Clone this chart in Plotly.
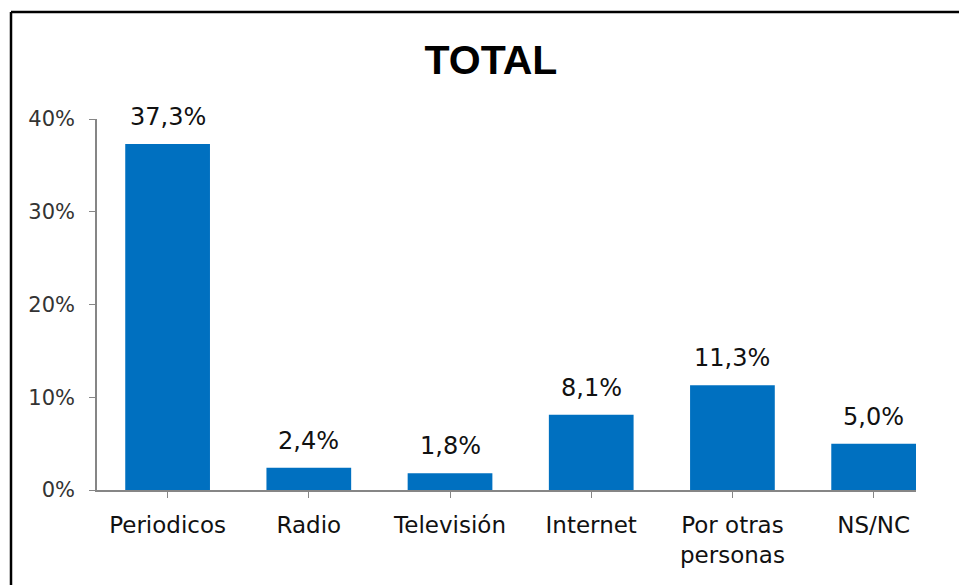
import plotly.graph_objects as go

categories = ["Periodicos", "Radio", "Televisión", "Internet", "Por otras<br>personas", "NS/NC"]
values = [37.3, 2.4, 1.8, 8.1, 11.3, 5.0]
labels = ["37,3%", "2,4%", "1,8%", "8,1%", "11,3%", "5,0%"]
tick_vals = [0, 10, 20, 30, 40]
tick_text = ["0%", "10%", "20%", "30%", "40%"]

W, H = 959, 585
# plot area in pixels: x 97..916, y 119..490
ml, mt, mr, mb = 97, 119, W - 916, H - 490
pw, ph = W - ml - mr, H - mt - mb

font = "DejaVu Sans, Verdana, sans-serif"

fig = go.Figure()
fig.add_trace(go.Bar(
    x=list(range(len(categories))), y=values,
    marker=dict(color="#0070C0", line=dict(width=0)),
    width=0.6,
))

# value labels above each bar
for i, (v, t) in enumerate(zip(values, labels)):
    fig.add_annotation(x=i, y=v, text=t, showarrow=False, yanchor="bottom",
                       yshift=11, font=dict(family=font, size=24, color="#111111"))

# chart frame: only the left and top edges are inside the cropped picture
fx0 = (11 - ml) / pw
fy1 = (490 - 12) / ph
frame = dict(color="#000000", width=2.5)
fig.add_shape(type="line", xref="paper", yref="paper", x0=fx0, x1=fx0, y0=-0.6, y1=fy1, line=frame)
fig.add_shape(type="line", xref="paper", yref="paper", x0=fx0, x1=1.2, y0=fy1, y1=fy1, line=frame)

fig.update_layout(
    width=W, height=H,
    margin=dict(l=ml, r=mr, t=mt, b=mb),
    paper_bgcolor="white", plot_bgcolor="white",
    showlegend=False,
    title=dict(text="<b>TOTAL</b>", x=491 / W, xanchor="center", y=1 - 60 / H,
               yanchor="middle",
               font=dict(family="Liberation Sans, Arial, sans-serif", size=41, color="#000000")),
    xaxis=dict(
        range=[-0.5, 5.3],
        tickmode="array", tickvals=list(range(len(categories))), ticktext=categories,
        tickson="boundaries", ticks="outside", ticklen=6, tickcolor="#868686",
        showline=True, linecolor="#868686", linewidth=1.5,
        showgrid=False, zeroline=False,
        tickfont=dict(family=font, size=23, color="#111111"),
        ticklabelstandoff=8,
    ),
    yaxis=dict(
        range=[0, 40],
        tickmode="array", tickvals=tick_vals, ticktext=tick_text,
        ticks="outside", ticklen=6, tickcolor="#868686",
        showline=True, linecolor="#868686", linewidth=1.5,
        showgrid=False, zeroline=False,
        tickfont=dict(family=font, size=21, color="#333333"),
        ticklabelstandoff=10,
    ),
)

# drop the default page margin so the figure fills the window exactly
fig.write_html("out.html", config={"displayModeBar": False},
               post_script="document.body.style.margin='0';document.body.style.overflow='hidden';")
